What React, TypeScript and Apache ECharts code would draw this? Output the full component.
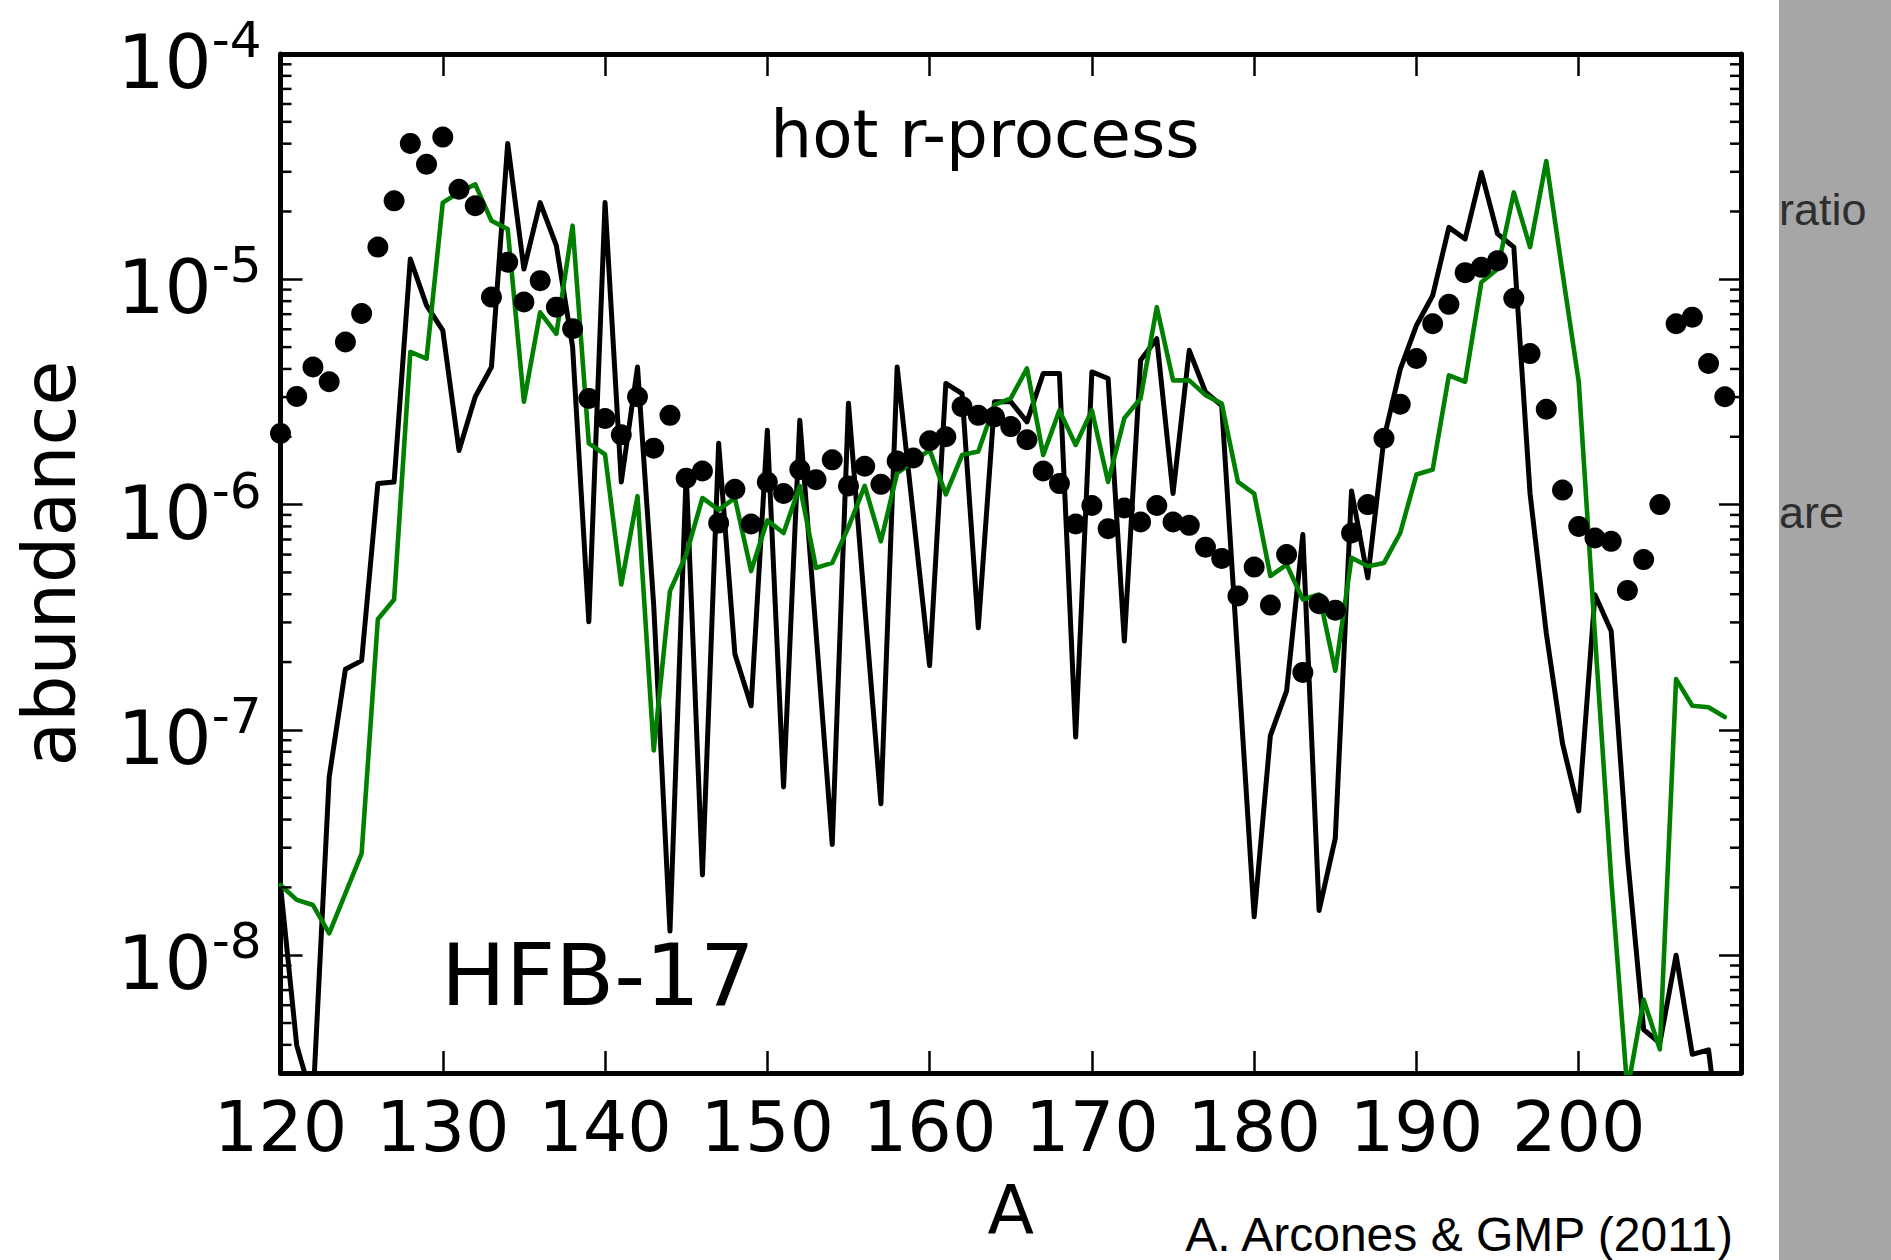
import React, { useEffect, useRef } from 'react';
import * as echarts from 'echarts';

// Mass numbers A
const massNumbers = [
  120, 121, 122, 123, 124, 125, 126, 127, 128, 129,
  130, 131, 132, 133, 134, 135, 136, 137, 138, 139,
  140, 141, 142, 143, 144, 145, 146, 147, 148, 149,
  150, 151, 152, 153, 154, 155, 156, 157, 158, 159,
  160, 161, 162, 163, 164, 165, 166, 167, 168, 169,
  170, 171, 172, 173, 174, 175, 176, 177, 178, 179,
  180, 181, 182, 183, 184, 185, 186, 187, 188, 189,
  190, 191, 192, 193, 194, 195, 196, 197, 198, 199,
  200, 201, 202, 203, 204, 205, 206, 207, 208, 209,
];

// Solar r-process abundances (black dots)
const solarAbundance = [
  2.07e-6, 3.02e-6, 4.08e-6, 3.51e-6, 5.27e-6, 7.05e-6, 1.39e-5, 2.23e-5, 4.01e-5, 3.24e-5,
  4.28e-5, 2.51e-5, 2.12e-5, 8.34e-6, 1.19e-5, 7.93e-6, 9.86e-6, 7.52e-6, 6.04e-6, 2.96e-6,
  2.41e-6, 2.04e-6, 3.01e-6, 1.78e-6, 2.49e-6, 1.31e-6, 1.41e-6, 8.28e-7, 1.17e-6, 8.20e-7,
  1.26e-6, 1.12e-6, 1.43e-6, 1.29e-6, 1.58e-6, 1.21e-6, 1.48e-6, 1.23e-6, 1.56e-6, 1.61e-6,
  1.92e-6, 2.00e-6, 2.72e-6, 2.49e-6, 2.45e-6, 2.22e-6, 1.94e-6, 1.41e-6, 1.24e-6, 8.20e-7,
  9.91e-7, 7.82e-7, 9.66e-7, 8.37e-7, 9.91e-7, 8.37e-7, 8.09e-7, 6.47e-7, 5.77e-7, 3.93e-7,
  5.28e-7, 3.58e-7, 6.00e-7, 1.80e-7, 3.63e-7, 3.40e-7, 7.48e-7, 1.00e-6, 1.97e-6, 2.79e-6,
  4.45e-6, 6.35e-6, 7.74e-6, 1.07e-5, 1.13e-5, 1.21e-5, 8.24e-6, 4.68e-6, 2.65e-6, 1.16e-6,
  8.00e-7, 7.11e-7, 6.87e-7, 4.16e-7, 5.70e-7, 1.00e-6, 6.35e-6, 6.79e-6, 4.23e-6, 3.01e-6,
];

// Model abundances, black line
const modelBlack = [
  2.04e-8, 3.98e-9, 2.24e-9, 6.17e-8, 1.86e-7, 2.03e-7, 1.24e-6, 1.26e-6, 1.23e-5, 7.66e-6,
  5.93e-6, 1.74e-6, 3.01e-6, 4.08e-6, 4.01e-5, 1.11e-5, 2.19e-5, 1.41e-5, 5.01e-6, 3.02e-7,
  2.19e-5, 1.26e-6, 4.08e-6, 3.55e-7, 1.28e-8, 1.38e-6, 2.27e-8, 1.87e-6, 2.17e-7, 1.28e-7,
  2.14e-6, 5.58e-8, 2.37e-6, 2.72e-7, 3.10e-8, 2.82e-6, 3.55e-7, 4.70e-8, 4.08e-6, 8.91e-7,
  1.93e-7, 3.45e-6, 3.11e-6, 2.84e-7, 2.86e-6, 2.86e-6, 2.33e-6, 3.82e-6, 3.82e-6, 9.29e-8,
  3.88e-6, 3.63e-6, 2.48e-7, 4.37e-6, 5.45e-6, 1.12e-6, 4.84e-6, 3.16e-6, 2.75e-6, 2.04e-7,
  1.48e-8, 9.44e-8, 1.49e-7, 7.36e-7, 1.58e-8, 3.31e-8, 1.15e-6, 4.73e-7, 1.97e-6, 3.98e-6,
  6.24e-6, 8.47e-6, 1.70e-5, 1.51e-5, 2.98e-5, 1.59e-5, 1.39e-5, 1.12e-6, 2.69e-7, 8.71e-8,
  4.37e-8, 3.98e-7, 2.75e-7, 2.75e-8, 4.68e-9, 4.07e-9, 1.00e-8, 3.63e-9, 3.80e-9, 1.0e-9,
];

// Model abundances, green line
const modelGreen = [
  2.05e-8, 1.76e-8, 1.67e-8, 1.25e-8, 1.88e-8, 2.83e-8, 3.10e-7, 3.79e-7, 4.76e-6, 4.45e-6,
  2.19e-5, 2.43e-5, 2.64e-5, 1.82e-5, 1.67e-5, 2.86e-6, 7.14e-6, 5.73e-6, 1.73e-5, 1.87e-6,
  1.67e-6, 4.42e-7, 1.09e-6, 8.11e-8, 4.13e-7, 6.00e-7, 1.07e-6, 9.48e-7, 1.07e-6, 5.07e-7,
  8.51e-7, 7.48e-7, 1.21e-6, 5.24e-7, 5.51e-7, 7.94e-7, 1.21e-6, 6.87e-7, 1.38e-6, 1.55e-6,
  1.75e-6, 1.11e-6, 1.66e-6, 1.72e-6, 2.77e-6, 2.96e-6, 4.02e-6, 1.66e-6, 2.62e-6, 1.84e-6,
  2.62e-6, 1.26e-6, 2.42e-6, 2.96e-6, 7.52e-6, 3.56e-6, 3.56e-6, 3.06e-6, 2.81e-6, 1.26e-6,
  1.12e-6, 4.82e-7, 5.42e-7, 3.79e-7, 3.99e-7, 1.83e-7, 5.81e-7, 5.33e-7, 5.51e-7, 7.48e-7,
  1.36e-6, 1.43e-6, 3.75e-6, 3.51e-6, 9.70e-6, 1.11e-5, 2.43e-5, 1.39e-5, 3.35e-5, 1.07e-5,
  3.51e-6, 2.63e-7, 2.19e-8, 2.51e-9, 6.35e-9, 3.82e-9, 1.68e-7, 1.28e-7, 1.26e-7, 1.14e-7,
];

// Axis ranges and tick definitions
const xRange = [120, 210];
const yRange = [3e-9, 1e-4];
const minorMantissas = [2, 3, 4, 5, 6, 7, 8, 9];
const minorDecades = [-9, -8, -7, -6, -5];

export default function App() {
  const ref = useRef<HTMLDivElement>(null);

  useEffect(() => {
    if (!ref.current) return;
    const chart = echarts.init(ref.current, null, { renderer: 'svg', width: 1891, height: 1260 });

    const pairs = (ys: number[]) => massNumbers.map((a, i) => [a, ys[i]]);
    const minorTicks: number[][] = [];
    minorDecades.forEach((d) => {
      minorMantissas.forEach((m) => {
        const v = m * Math.pow(10, d);
        if (v > yRange[0] && v < yRange[1]) minorTicks.push([xRange[0], v]);
      });
    });

    const tickFont = 'DejaVu Sans';
    const spine = { show: true, onZero: false, lineStyle: { color: '#000', width: 5 } };
    const majorTick = { show: true, inside: true, length: 22, lineStyle: { color: '#000', width: 2.5 } };

    const option: any = {
      animation: false,
      backgroundColor: '#ffffff',
      grid: { left: 280.5, right: 150, top: 54, bottom: 187, containLabel: false, outerBoundsMode: 'none' },
      xAxis: [
        {
          type: 'value', position: 'bottom', min: xRange[0], max: xRange[1], interval: 10,
          axisLine: spine, axisTick: majorTick, splitLine: { show: false },
          axisLabel: {
            show: true, margin: 19, color: '#000', fontFamily: tickFont, fontSize: 70, lineHeight: 70,
            formatter: (v: number) => (v >= 210 ? '' : String(v)),
          },
          name: 'A', nameLocation: 'middle', nameGap: 103,
          nameTextStyle: { color: '#000', fontFamily: tickFont, fontSize: 68, lineHeight: 68 },
        },
        {
          type: 'value', position: 'top', min: xRange[0], max: xRange[1], interval: 10,
          axisLine: spine, axisTick: majorTick, splitLine: { show: false }, axisLabel: { show: false },
        },
      ],
      yAxis: [
        {
          type: 'log', logBase: 10, position: 'left', min: yRange[0], max: yRange[1],
          axisLine: spine, axisTick: majorTick, splitLine: { show: false }, minorTick: { show: false },
          axisLabel: {
            show: true, margin: 19, color: '#000', padding: [6, 0, 0, 0],
            formatter: (v: number) => {
              const e = Math.log10(v);
              const r = Math.round(e);
              if (Math.abs(e - r) > 1e-6) return '';
              return '{b|10}{s|' + String(r) + '}';
            },
            rich: {
              b: { fontFamily: tickFont, fontSize: 74, color: '#000', verticalAlign: 'bottom' },
              s: { fontFamily: tickFont, fontSize: 50, color: '#000', verticalAlign: 'top', padding: [0, 0, 34, 0] },
            },
          },
          name: 'abundance', nameLocation: 'middle', nameRotate: 90, nameGap: 195,
          nameTextStyle: { color: '#000', fontFamily: tickFont, fontSize: 73, lineHeight: 73 },
        },
        {
          type: 'log', logBase: 10, position: 'right', min: yRange[0], max: yRange[1],
          axisLine: spine, axisTick: majorTick, splitLine: { show: false }, axisLabel: { show: false },
        },
      ],
      series: [
        {
          type: 'line', name: 'model (black)', data: pairs(modelBlack), showSymbol: false, symbol: 'none',
          lineStyle: { color: '#000000', width: 5, join: 'round', cap: 'round' }, itemStyle: { color: '#000' },
          clip: true, z: 2, silent: true,
        },
        {
          type: 'line', name: 'model (green)', data: pairs(modelGreen), showSymbol: false, symbol: 'none',
          lineStyle: { color: '#008000', width: 4.6, join: 'round', cap: 'round' }, itemStyle: { color: '#008000' },
          clip: true, z: 3, silent: true,
        },
        {
          type: 'scatter', name: 'solar r-process', data: pairs(solarAbundance), symbol: 'circle', symbolSize: 21,
          itemStyle: { color: '#000000', opacity: 1 }, z: 4, silent: true,
        },
        {
          type: 'custom', name: 'minor ticks', data: minorTicks, encode: { x: 0, y: 1 }, silent: true, z: 5,
          renderItem: (_p: any, api: any) => {
            const v = api.value(1);
            const l = api.coord([xRange[0], v]);
            const r = api.coord([xRange[1], v]);
            return {
              type: 'group',
              children: [
                { type: 'line', shape: { x1: l[0], y1: l[1], x2: l[0] + 11, y2: l[1] }, style: { stroke: '#000', lineWidth: 2.5 } },
                { type: 'line', shape: { x1: r[0], y1: r[1], x2: r[0] - 11, y2: r[1] }, style: { stroke: '#000', lineWidth: 2.5 } },
              ],
            };
          },
        },
      ],
      graphic: [
        { type: 'rect', left: 1779, top: 0, shape: { width: 112, height: 1260 }, style: { fill: '#a6a6a6' }, silent: true, z: 0 },
        {
          type: 'text', x: 985, y: 134,
          style: { text: 'hot r-process', fontFamily: tickFont, fontSize: 66, fill: '#000', align: 'center', verticalAlign: 'middle', textAlign: 'center', textVerticalAlign: 'middle' },
        },
        {
          type: 'text', x: 441, y: 975,
          style: { text: 'HFB-17', fontFamily: tickFont, fontSize: 86, fill: '#000', align: 'left', verticalAlign: 'middle', textAlign: 'left', textVerticalAlign: 'middle' },
        },
        {
          type: 'text', x: 1733, y: 1234,
          style: { text: 'A. Arcones & GMP (2011)', fontFamily: 'Liberation Sans', fontSize: 48, lineHeight: 44, fill: '#000', align: 'right', verticalAlign: 'middle', textAlign: 'right', textVerticalAlign: 'middle' },
        },
        {
          type: 'text', x: 1779, y: 209,
          style: { text: 'ratio', fontFamily: 'Liberation Sans', fontSize: 45, fill: '#2e2e2e', align: 'left', verticalAlign: 'middle', textAlign: 'left', textVerticalAlign: 'middle' },
        },
        {
          type: 'text', x: 1779, y: 512,
          style: { text: 'are', fontFamily: 'Liberation Sans', fontSize: 45, fill: '#2e2e2e', align: 'left', verticalAlign: 'middle', textAlign: 'left', textVerticalAlign: 'middle' },
        },
      ],
    };

    chart.setOption(option);
    return () => chart.dispose();
  }, []);

  return <div ref={ref} style={{ position: 'fixed', left: 0, top: 0, width: 1891, height: 1260, background: '#fff' }} />;
}
